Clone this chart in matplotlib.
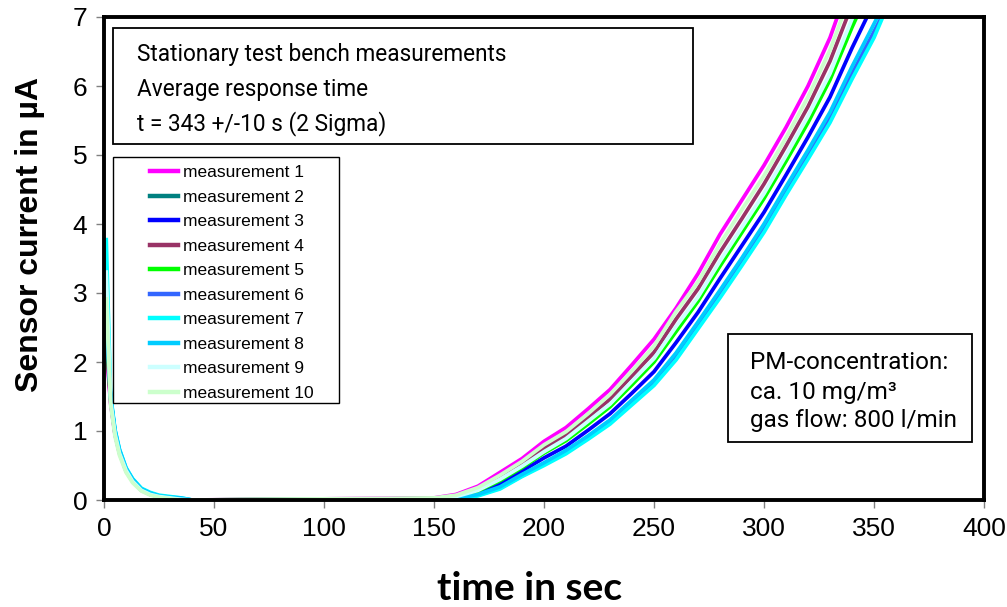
import matplotlib
matplotlib.use("Agg")
import matplotlib.pyplot as plt
from matplotlib.patches import Rectangle
from matplotlib.lines import Line2D

# --- data ---
time_s = [1, 3, 5, 7, 10, 13, 17, 21, 25, 30, 35, 40,
          150, 160, 170, 180, 190, 200, 210, 220, 230, 240, 250,
          260, 270, 280, 290, 300, 310, 320, 330, 340, 350, 360]

m1 = [2.2, 1.4, 0.95, 0.68, 0.42, 0.27, 0.14, 0.08, 0.05, 0.02, 0.0, 0.0,
      0.03, 0.08, 0.2, 0.4, 0.6, 0.85, 1.05, 1.32, 1.6, 1.96, 2.33,
      2.78, 3.28, 3.85, 4.35, 4.85, 5.4, 6.0, 6.7, 7.6, 8.4, 9.2]
m2 = [2.4, 1.45, 0.97, 0.7, 0.44, 0.28, 0.15, 0.09, 0.05, 0.03, 0.0, 0.0,
      0.02, 0.05, 0.14, 0.29, 0.48, 0.69, 0.88, 1.12, 1.37, 1.69, 2.02,
      2.47, 2.91, 3.43, 3.91, 4.40, 4.95, 5.51, 6.13, 6.91, 7.62, 8.33]
m3 = [2.56, 1.47, 0.98, 0.7, 0.44, 0.29, 0.15, 0.09, 0.06, 0.03, 0.01, 0.0,
      0.01, 0.03, 0.10, 0.23, 0.42, 0.61, 0.78, 1.01, 1.25, 1.55, 1.86,
      2.28, 2.72, 3.21, 3.69, 4.17, 4.71, 5.26, 5.84, 6.55, 7.21, 7.87]
m4 = [2.3, 1.42, 0.96, 0.69, 0.43, 0.28, 0.14, 0.08, 0.05, 0.03, 0.0, 0.0,
      0.02, 0.06, 0.16, 0.33, 0.53, 0.75, 0.94, 1.20, 1.46, 1.80, 2.14,
      2.62, 3.06, 3.59, 4.08, 4.58, 5.13, 5.70, 6.36, 7.18, 7.92, 8.67]
m5 = [2.5, 1.46, 0.98, 0.7, 0.45, 0.29, 0.15, 0.09, 0.05, 0.03, 0.0, 0.0,
      0.02, 0.05, 0.13, 0.28, 0.47, 0.68, 0.86, 1.10, 1.35, 1.67, 2.00,
      2.44, 2.88, 3.39, 3.88, 4.37, 4.91, 5.47, 6.09, 6.85, 7.55, 8.25]
m6 = [2.6, 1.48, 1.0, 0.72, 0.45, 0.3, 0.16, 0.1, 0.06, 0.04, 0.02, 0.0,
      0.0, 0.01, 0.07, 0.17, 0.35, 0.52, 0.69, 0.90, 1.13, 1.41, 1.69,
      2.07, 2.52, 2.98, 3.45, 3.93, 4.47, 4.99, 5.53, 6.18, 6.79, 7.40]
m7 = [3.8, 1.52, 1.02, 0.74, 0.47, 0.31, 0.17, 0.11, 0.07, 0.05, 0.03, 0.0,
      0.0, 0.01, 0.06, 0.16, 0.34, 0.5, 0.67, 0.88, 1.1, 1.38, 1.66,
      2.03, 2.48, 2.93, 3.4, 3.88, 4.42, 4.94, 5.47, 6.1, 6.7, 7.45]
m8 = [2.7, 1.5, 1.01, 0.73, 0.46, 0.3, 0.16, 0.1, 0.06, 0.04, 0.03, 0.0,
      0.0, 0.02, 0.08, 0.19, 0.37, 0.54, 0.72, 0.93, 1.16, 1.45, 1.74,
      2.13, 2.58, 3.04, 3.51, 4.00, 4.54, 5.07, 5.62, 6.28, 6.90, 7.53]
m9 = [3.33, 1.44, 0.96, 0.68, 0.43, 0.27, 0.14, 0.08, 0.05, 0.03, 0.01, 0.0,
      0.02, 0.05, 0.14, 0.30, 0.49, 0.70, 0.89, 1.14, 1.39, 1.72, 2.05,
      2.51, 2.94, 3.46, 3.95, 4.44, 4.99, 5.56, 6.18, 6.97, 7.69, 8.40]
m10 = [2.94, 1.38, 0.92, 0.65, 0.4, 0.25, 0.13, 0.07, 0.04, 0.02, 0.0, 0.0,
       0.03, 0.07, 0.18, 0.36, 0.56, 0.80, 0.99, 1.25, 1.53, 1.87, 2.23,
       2.73, 3.16, 3.71, 4.21, 4.70, 5.25, 5.84, 6.52, 7.38, 8.15, 8.92]

series = [m1, m2, m3, m4, m5, m6, m7, m8, m9, m10]
labels = ["measurement %d" % (i + 1) for i in range(10)]
colors = ["#FF00FF", "#008080", "#0000FF", "#993366", "#00FF00",
          "#3366FF", "#00FFFF", "#00CCFF", "#CCFFFF", "#CCFFCC"]

x_ticks = [0, 50, 100, 150, 200, 250, 300, 350, 400]
y_ticks = [0, 1, 2, 3, 4, 5, 6, 7]

box_lines = ["Stationary test bench measurements",
             "Average response time",
             "t = 343 +/-10 s (2 Sigma)"]
pm_lines = ["PM-concentration:", "ca. 10 mg/m³", "gas flow: 800 l/min"]

# --- figure in pixel units ---
W, H = 1007, 607


def fx(x):
    return x / W


def fy(y):
    return 1 - y / H


fig = plt.figure(figsize=(W / 100, H / 100), dpi=100)
fig.patch.set_facecolor("white")
ax = fig.add_axes([fx(104), fy(500), (984 - 104) / W, (500 - 17) / H])

for vals, lab, col in zip(series, labels, colors):
    ax.plot(time_s, vals, color=col, lw=2.7, label=lab, solid_capstyle="butt")

ax.set_xlim(0, 400)
ax.set_ylim(0, 7)
ax.set_xticks(x_ticks)
ax.set_yticks(y_ticks)
ax.tick_params(direction="out", length=6, width=1, color="#808080",
               labelsize=19, pad=6)
for lbl in ax.get_xticklabels() + ax.get_yticklabels():
    lbl.set_fontfamily("Liberation Sans")
for sp in ax.spines.values():
    sp.set_linewidth(2.8)
    sp.set_color("black")

# axis labels
fig.text(fx(30), fy(235), "Sensor current in µA", rotation=90,
         ha="center", va="center", fontsize=23, fontweight="bold",
         family="Liberation Sans")
fig.text(fx(530), fy(588), "time in sec", ha="center", va="center",
         fontsize=28, fontweight="bold", family="Lato")

# info box top
fig.patches.append(Rectangle((fx(113), fy(144)), (693 - 113) / W, (144 - 28) / H,
                             transform=fig.transFigure, facecolor="white",
                             edgecolor="black", lw=1.3))
for txt, yb in zip(box_lines, [61, 96, 130]):
    fig.text(fx(137), fy(yb), txt, ha="left", va="baseline",
             fontsize=16.3, family="Roboto")

# PM box
fig.patches.append(Rectangle((fx(728), fy(442)), (972 - 728) / W, (442 - 334) / H,
                             transform=fig.transFigure, facecolor="white",
                             edgecolor="black", lw=1.3))
for txt, yb in zip(pm_lines, [369, 399, 427]):
    fig.text(fx(750), fy(yb), txt, ha="left", va="baseline",
             fontsize=17.5, family="Roboto")

# legend with its own frame
fig.patches.append(Rectangle((fx(113), fy(403)), (339 - 113) / W, (403 - 157) / H,
                             transform=fig.transFigure, facecolor="white",
                             edgecolor="black", lw=1.0))
handles = [Line2D([0], [0], color=c, lw=3.2) for c in colors]
fig.legend(handles, labels, loc="upper left",
           bbox_to_anchor=(fx(150), fy(165)), bbox_transform=fig.transFigure,
           frameon=False, borderpad=0, borderaxespad=0,
           prop={"family": "Liberation Sans", "size": 12.5},
           handlelength=1.6, handletextpad=0.3, labelspacing=0.54)

fig.savefig("out.png", dpi=100, facecolor="white")
